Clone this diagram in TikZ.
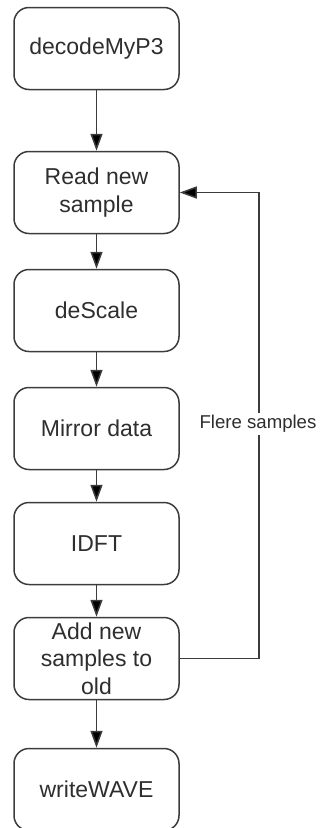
\documentclass[tikz,border=0pt]{standalone}
\usepackage{fontspec}
\setmainfont{Liberation Sans}
\usetikzlibrary{arrows.meta}
\definecolor{edge}{HTML}{3C3C3C}
\definecolor{ink}{HTML}{2E2E2E}
\tikzset{
  stepbox/.style={draw=edge, line width=1.5pt, rounded corners=15pt,
    minimum width=165pt, minimum height=82pt, align=center,
    text=ink, font=\fontsize{23}{27.5}\selectfont, inner sep=2pt},
  flow/.style={draw=edge, line width=1.5pt,
    -{Triangle[length=17pt,width=12pt,fill=black]}},
  lbl/.style={fill=white, text=ink, font=\fontsize{18.6}{22}\selectfont, inner sep=2pt}
}
\begin{document}
\begin{tikzpicture}[x=1pt,y=-1pt]
\useasboundingbox (0,0) rectangle (320,828);
\node[stepbox] (dec)  at (96.5,48.5)  {decodeMyP3};
\node[stepbox] (read) at (96.5,192.5) {Read new\\sample};
\node[stepbox] (desc) at (96.5,310.5) {deScale};
\node[stepbox] (mir)  at (96.5,428.5) {Mirror data};
\node[stepbox] (idft) at (96.5,543.5) {IDFT};
\node[stepbox] (add)  at (96.5,658.5) {Add new\\samples to\\old};
\node[stepbox] (wav)  at (96.5,789.5) {writeWAVE};
\draw[flow] (dec) -- (read);
\draw[flow] (read) -- (desc);
\draw[flow] (desc) -- (mir);
\draw[flow] (mir) -- (idft);
\draw[flow] (idft) -- (add);
\draw[flow] (add) -- (wav);
\coordinate (loopdown) at (259,658.5);
\coordinate (loopup) at (259,192.5);
\draw[flow] (add.east) -- (loopdown) -- (loopup) -- (read.east);
\node[lbl] (more) at (258,424) {Flere samples};
\end{tikzpicture}
\end{document}
